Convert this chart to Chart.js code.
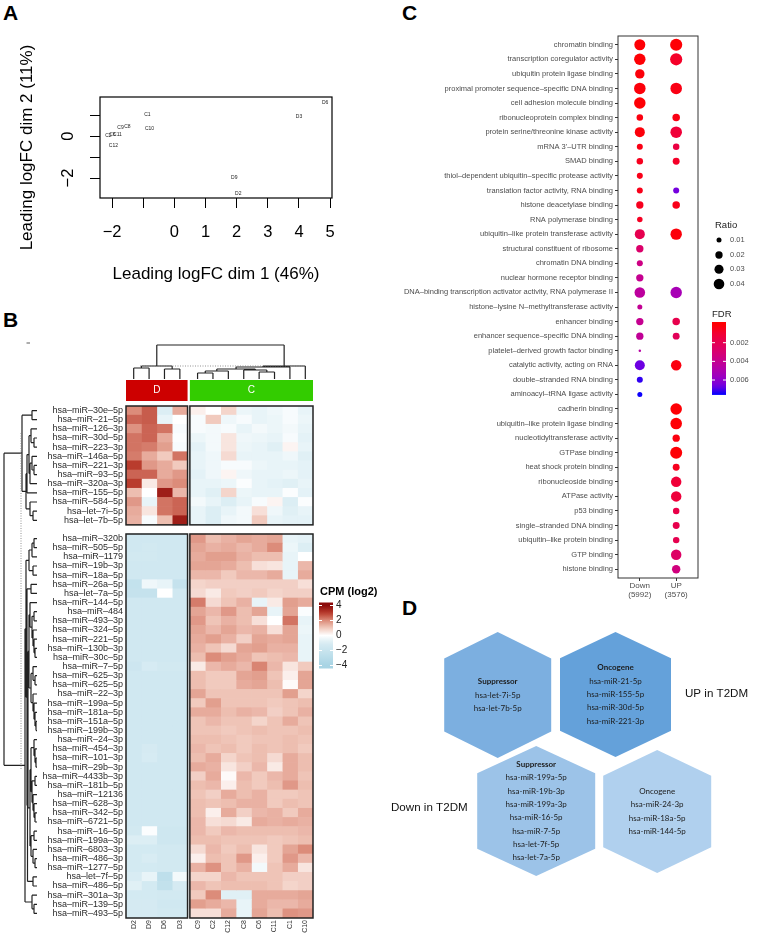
<!DOCTYPE html>
<html>
<head>
<meta charset="utf-8">
<script src="https://cdn.jsdelivr.net/npm/chart.js@4.4.1/dist/chart.umd.min.js"></script>
<style>
  body { margin: 0; background: #fff; width: 758px; height: 939px; position: relative; overflow: hidden;
         font-family: 'Liberation Sans', Arial, sans-serif; }
  canvas { position: absolute; }
  .lab { position: absolute; font-weight: bold; font-size: 21px; line-height: 21px; color: #000; }
</style>
</head>
<body>
<div class="lab" style="left:3px;top:2px">A</div>
<div class="lab" style="left:3px;top:309px">B</div>
<div class="lab" style="left:402px;top:2px">C</div>
<div class="lab" style="left:402px;top:597px">D</div>
<canvas id="cA" width="370" height="290" style="left:0;top:0"></canvas>
<canvas id="cB" width="380" height="639" style="left:0;top:300px"></canvas>
<canvas id="cC" width="388" height="605" style="left:370px;top:0"></canvas>
<canvas id="cD" width="388" height="349" style="left:370px;top:590px"></canvas>
<script>
// ---------- Panel A : MDS plot ----------
const mdsSamples = ['D6', 'D3', 'C1', 'C10', 'C9', 'C8', 'C2', 'C6', 'C11', 'C12', 'D9', 'D2'];
const mdsDim1 = [4.84, 4.0, -0.87, -0.8, -1.73, -1.51, -2.12, -1.99, -1.83, -1.96, 1.92, 2.05];
const mdsDim2 = [1.6, 0.93, 1.03, 0.36, 0.41, 0.46, 0.0, 0.08, 0.08, -0.44, -1.96, -2.72];
const mdsXTicks = [-2, -1, 0, 1, 2, 3, 4, 5];
const mdsYTicks = [-2, -1, 0, 1];
const mdsYShown = [0, -2];

// ---------- Panel B : heatmap ----------
const heatCols = ['D2', 'D9', 'D6', 'D3', 'C9', 'C2', 'C12', 'C8', 'C6', 'C11', 'C1', 'C10'];
const heatGroups = ['D', 'D', 'D', 'D', 'C', 'C', 'C', 'C', 'C', 'C', 'C', 'C'];
const heatRows = [
  'hsa–miR–30e–5p', 'hsa–miR–21–5p', 'hsa–miR–126–3p', 'hsa–miR–30d–5p', 'hsa–miR–223–3p',
  'hsa–miR–146a–5p', 'hsa–miR–221–3p', 'hsa–miR–93–5p', 'hsa–miR–320a–3p', 'hsa–miR–155–5p',
  'hsa–miR–584–5p', 'hsa–let–7i–5p', 'hsa–let–7b–5p',
  'hsa–miR–320b', 'hsa–miR–505–5p', 'hsa–miR–1179', 'hsa–miR–19b–3p', 'hsa–miR–18a–5p',
  'hsa–miR–26a–5p', 'hsa–let–7a–5p', 'hsa–miR–144–5p', 'hsa–miR–484', 'hsa–miR–493–3p',
  'hsa–miR–324–5p', 'hsa–miR–221–5p', 'hsa–miR–130b–3p', 'hsa–miR–30c–5p', 'hsa–miR–7–5p',
  'hsa–miR–625–3p', 'hsa–miR–625–5p', 'hsa–miR–22–3p', 'hsa–miR–199a–5p', 'hsa–miR–181a–5p',
  'hsa–miR–151a–5p', 'hsa–miR–199b–3p', 'hsa–miR–24–3p', 'hsa–miR–454–3p', 'hsa–miR–101–3p',
  'hsa–miR–29b–3p', 'hsa–miR–4433b–3p', 'hsa–miR–181b–5p', 'hsa–miR–12136', 'hsa–miR–628–3p',
  'hsa–miR–342–5p', 'hsa–miR–6721–5p', 'hsa–miR–16–5p', 'hsa–miR–199a–3p', 'hsa–miR–6803–3p',
  'hsa–miR–486–3p', 'hsa–miR–1277–5p', 'hsa–let–7f–5p', 'hsa–miR–486–5p', 'hsa–miR–301a–3p',
  'hsa–miR–139–5p', 'hsa–miR–493–5p'
];
const heatSplit = 13; // rows in the upper block
const heatValues = [
  [2.0, 2.6, -0.9, 1.5, 0.3, 0, 0.8, -0.5, -0.6, -0.4, -0.2, -0.6],
  [2.5, 2.6, -0.6, 0, -0.2, 1.0, -0.4, -0.2, -0.6, -0.5, -0.2, -0.5],
  [1.9, 2.5, 2.3, -0.2, -0.2, -0.3, -0.2, -0.6, -0.3, -0.5, -0.3, -0.6],
  [2.3, 2.5, 1.5, -0.1, -0.5, -0.3, 0.5, -0.4, -0.5, -0.6, -0.2, -0.7],
  [2.3, 2.2, 1.7, -0.2, -0.7, -0.3, 0.5, -0.5, -0.6, -0.8, 0.2, -0.6],
  [2.2, 1.5, 1.0, 2.3, -0.6, -0.4, 0.7, -0.6, -0.6, -0.6, -0.4, -0.8],
  [3.0, 1.8, 1.5, 1.0, -0.6, -0.4, -0.2, -0.2, -0.5, -0.6, -0.6, -0.7],
  [2.5, 2.5, 1.5, 1.8, -0.7, -0.4, 0.2, -0.4, -0.6, -0.6, -0.5, -0.7],
  [3.0, 0.4, 1.8, 2.0, -0.6, -0.6, -0.5, -0.1, -0.6, -0.7, -0.8, -0.6],
  [1.2, 0, 3.6, 1.3, -0.6, -0.8, 0.8, -0.5, -0.6, -0.6, -0.1, -0.7],
  [1.8, -0.6, 2.3, 2.5, -0.3, -0.6, -0.9, -0.6, -0.2, 0.2, -0.9, -0.1],
  [1.5, 0.5, 2.3, 2.5, -0.6, -0.9, -0.6, -0.3, 0.6, -0.4, -0.8, -0.6],
  [1.4, -0.2, 1.2, 3.6, -0.6, -0.9, -0.4, -0.3, 1.0, -0.6, -0.7, -0.7],
  [-1.5, -1.5, -1.5, -1.5, 1.8, 1.2, 1.4, 1.6, 1.5, 1.6, -0.6, -0.7],
  [-1.5, -1.4, -1.5, -1.5, 1.6, 1.4, 1.5, 1.3, 1.5, 2.0, -0.5, -0.9],
  [-1.4, -1.4, -1.5, -1.5, 1.5, 1.7, 1.7, 1.4, 1.2, 1.2, -0.6, 0],
  [-1.5, -1.5, -1.5, -1.5, 1.6, 1.6, 1.5, 1.2, 0.6, 0.5, -0.6, 1.3],
  [-1.5, -1.5, -1.5, -1.5, 1.3, 1.3, 1.0, 1.3, 1.3, 1.5, -0.6, 1.5],
  [-2.3, -0.4, -0.6, -2.2, 0.8, 0.9, 0.9, 0.9, 0.9, 0.9, 0.9, 0.6],
  [-2.2, -2.2, 0, -1.5, 0.7, 0.4, 1.0, 0.9, 1.0, 0.8, 0.9, 0.9],
  [-1.5, -1.5, -1.5, -1.5, 2.2, 0.7, 1.1, 1.4, -0.6, 0.4, 1.7, 1.5],
  [-1.5, -1.5, -1.5, -1.5, 1.6, 1.3, 1.8, 1.2, 1.6, -0.6, 1.6, -0.1],
  [-1.5, -1.5, -1.5, -1.5, 1.8, 1.1, 1.4, 1.2, 0.6, 0, 2.3, -0.6],
  [-1.5, -1.5, -1.5, -1.5, 1.6, 1.3, 1.6, 1.3, 1.4, 0.6, 1.6, -0.5],
  [-1.5, -1.5, -1.5, -1.5, 1.5, 1.7, 1.4, 0.9, 1.6, 1.5, 1.6, -0.6],
  [-1.5, -1.5, -1.5, -1.5, 1.4, 1.1, 0.7, 1.6, 1.7, 1.4, 1.4, -0.6],
  [-1.5, -1.5, -1.5, -1.5, 1.2, 2.0, 1.7, 1.5, 1.1, 1.2, 1.3, -0.6],
  [-1.7, -1.1, -1.4, -1.4, 0.4, 1.3, 1.5, 1.3, 2.1, 1.3, 0.5, 1.0],
  [-1.5, -1.5, -1.5, -1.5, 1.2, 1.0, 1.0, 1.6, 1.7, 1.1, 0.3, 1.6],
  [-1.5, -1.5, -1.5, -1.5, 1.2, 1.0, 1.0, 1.5, 1.6, 1.2, 0.1, 1.6],
  [-1.5, -1.5, -1.5, -1.5, 1.6, 1.1, 1.1, 1.1, 1.1, 1.1, 1.7, 0.8],
  [-1.5, -1.5, -1.5, -1.5, 1.0, 1.7, 1.1, 1.1, 1.1, 1.0, 1.1, 1.2],
  [-1.5, -1.5, -1.5, -1.5, 1.5, 1.5, 1.2, 1.4, 1.3, 0.9, 1.1, 1.4],
  [-1.5, -1.5, -1.5, -1.5, 1.1, 1.3, 1.1, 1.1, 0.8, 1.1, 1.5, 1.1],
  [-1.5, -1.5, -1.5, -1.5, 1.1, 1.1, 1.0, 1.1, 1.2, 1.1, 1.1, 1.2],
  [-1.5, -1.5, -1.5, -1.5, 1.2, 1.2, 1.1, 1.0, 1.1, 1.1, 1.2, 1.1],
  [-1.5, -1.2, -1.5, -1.5, 1.3, 1.1, 1.2, 1.0, 1.2, 1.1, 1.2, 1.0],
  [-1.5, -1.1, -1.5, -1.5, 1.2, 1.5, 0.8, 1.1, 1.2, 0.7, 1.5, 1.2],
  [-1.5, -1.5, -1.5, -1.5, 1.5, 1.4, 0.5, 0.9, 1.3, 0.4, 1.5, 1.2],
  [-1.5, -1.5, -1.5, -1.5, 0.9, 1.5, 0.1, 1.3, 1.0, 1.3, 1.5, 1.1],
  [-1.5, -1.5, -1.5, -1.5, 1.2, 1.3, 0.3, 1.2, 1.0, 1.2, 1.8, 1.2],
  [-1.5, -1.5, -1.5, -1.5, 1.1, 0.9, 1.5, 1.2, 1.4, 1.0, 1.0, 1.1],
  [-1.5, -1.5, -1.5, -1.5, 1.2, 1.1, 1.2, 1.4, 1.4, 1.0, 1.2, 1.1],
  [-1.5, -1.5, -1.5, -1.5, 1.2, 0.3, 1.5, 0.9, 1.3, 1.4, 1.0, 1.5],
  [-1.5, -1.5, -1.5, -1.5, 1.3, 0.6, 0.7, 0.4, 1.5, 1.4, 1.5, 1.4],
  [-1.4, -0.1, -1.6, -1.6, 1.3, 1.0, 1.3, 1.2, 1.2, 1.2, 1.2, 1.3],
  [-0.9, -0.9, -1.6, -1.6, 1.2, 1.2, 1.1, 1.1, 1.1, 1.0, 1.1, 1.2],
  [-1.3, -1.3, -1.4, -1.4, 0.7, 1.3, 1.0, 1.2, 0.5, 1.0, 1.6, 2.0],
  [-1.3, -1.0, -1.4, -1.4, 0.3, 1.2, 1.1, 1.8, 0.3, 1.0, 1.8, 1.3],
  [-1.3, -1.3, -1.4, -1.4, 1.4, 1.9, 1.1, 1.4, -0.3, 1.1, 1.5, 0.5],
  [-1.0, -0.6, -2.6, -0.3, 0.8, 0.8, 1.3, 1.1, 1.1, 1.1, 0.9, 0.9],
  [-0.8, -1.3, -2.4, -1.2, 1.3, 1.1, 1.2, 1.2, 1.2, 1.1, 0.8, 0.9],
  [-1.3, -1.3, -1.4, -1.4, 1.0, 2.0, -0.8, -0.8, 1.5, 1.5, 1.5, 1.6],
  [-1.2, -1.2, -1.5, -1.5, 1.7, 1.5, 1.3, -0.6, 1.5, 1.3, 1.3, 1.5],
  [-1.2, -1.2, -1.4, -1.4, 0.6, 0.6, 1.5, -0.6, 1.6, 1.2, 1.9, 1.8]
];
// dendrograms: [left, right, height]; leaves are 1-based positions
const colTree = [[[1, 2, 11], [3, 4, 10], 13],
  [[[[[5, 6, 6], 7, 8], [8, [9, 10, 7], 9], 10], 11, 12], 12, 13], 34];
const rowTreeTop = [[1, 2, 5],
  [[[[3, [4, 5, 3], 6], [[6, [7, 8, 3], 5], 9, 7], 8], 10, 10], [11, [12, 13, 4], 7], 11], 15];
const rowTreeBottom = [[
  [[[14, 15, 3], 16, 5], [17, 18, 4], 8],
  [[19, 20, 6],
   [[[[21, [[22, 23, 3], [24, [25, [26, 27, 2], 3], 4], 5], 7],
      [[28, [29, 30, 2], 4], [31, [32, [33, [34, 35, 1], 2], 3], 4], 6], 8],
     [[[36, [37, [38, 39, 1], 2], 3], [[40, 41, 2], [42, [43, [44, 45, 2], 3], 4], 5], 6],
      [[46, 47, 3], [48, [49, 50, 2], 4], 6], 7], 9],
    [51, 52, 4], 9.5], 10], 11],
  [53, [54, 55, 3], 5], 12];
const rowTree = [rowTreeTop, rowTreeBottom, 33];
const cpmTicks = [4, 2, 0, -2, -4];

// ---------- Panel C : GO dot plot ----------
const goTerms = [
  'chromatin binding', 'transcription coregulator activity', 'ubiquitin protein ligase binding',
  'proximal promoter sequence–specific DNA binding', 'cell adhesion molecule binding',
  'ribonucleoprotein complex binding', 'protein serine/threonine kinase activity', 'mRNA 3\'–UTR binding',
  'SMAD binding', 'thiol–dependent ubiquitin–specific protease activity',
  'translation factor activity, RNA binding', 'histone deacetylase binding', 'RNA polymerase binding',
  'ubiquitin–like protein transferase activity', 'structural constituent of ribosome',
  'chromatin DNA binding', 'nuclear hormone receptor binding',
  'DNA–binding transcription activator activity, RNA polymerase II',
  'histone–lysine N–methyltransferase activity', 'enhancer binding',
  'enhancer sequence–specific DNA binding', 'platelet–derived growth factor binding',
  'catalytic activity, acting on RNA', 'double–stranded RNA binding', 'aminoacyl–tRNA ligase activity',
  'cadherin binding', 'ubiquitin–like protein ligase binding', 'nucleotidyltransferase activity',
  'GTPase binding', 'heat shock protein binding', 'ribonucleoside binding', 'ATPase activity',
  'p53 binding', 'single–stranded DNA binding', 'ubiquitin–like protein binding', 'GTP binding',
  'histone binding'
];
const downRatio = [0.043, 0.046, 0.032, 0.047, 0.047, 0.016, 0.036, 0.014, 0.016, 0.014, 0.014, 0.020,
  0.012, 0.036, 0.020, 0.014, 0.020, 0.040, 0.010, 0.020, 0.020, 0.003, 0.036, 0.014, 0.010,
  null, null, null, null, null, null, null, null, null, null, null, null];
const downFDR = [0.0001, 0.0001, 0.0002, 0.0002, 0.0001, 0.0003, 0.0002, 0.0004, 0.0006, 0.0005, 0.0005, 0.0006,
  0.0007, 0.0019, 0.0028, 0.0036, 0.0040, 0.0044, 0.0041, 0.0040, 0.0042, 0.0046, 0.0067, 0.0072, 0.0075,
  null, null, null, null, null, null, null, null, null, null, null, null];
const upRatio = [0.052, 0.052, null, 0.047, null, 0.021, 0.047, 0.016, 0.018, null, 0.014, 0.021,
  null, 0.046, null, null, null, 0.046, null, 0.021, 0.018, null, 0.039, null, null,
  0.047, 0.047, 0.020, 0.051, 0.018, 0.039, 0.039, 0.016, 0.018, 0.016, 0.039, 0.026];
const upFDR = [0.0001, 0.0008, null, 0.0004, null, 0.0004, 0.0012, 0.0015, 0.0008, null, 0.0066, 0.0005,
  null, 0.0002, null, null, null, 0.0052, null, 0.0018, 0.0022, null, 0.0003, null, null,
  0.0001, 0.0001, 0.0003, 0.0001, 0.0006, 0.0012, 0.0013, 0.0017, 0.0018, 0.0019, 0.0026, 0.0034];
const groupLabels = [['Down', '(5992)'], ['UP', '(3576)']];
const ratioBreaks = [0.01, 0.02, 0.03, 0.04];
const fdrBreaks = [0.002, 0.004, 0.006];
const fdrMax = 0.0076;

// ---------- Panel D : hexagon summary ----------
const hexTitles = ['Suppressor', 'Oncogene', 'Suppressor', 'Oncogene'];
const hexBold = [true, true, true, false];
const hexMembers = [
  ['hsa-let-7i-5p', 'hsa-let-7b-5p'],
  ['hsa-miR-21-5p', 'hsa-miR-155-5p', 'hsa-miR-30d-5p', 'hsa-miR-221-3p'],
  ['hsa-miR-199a-5p', 'hsa-miR-19b-3p', 'hsa-miR-199a-3p', 'hsa-miR-16-5p', 'hsa-miR-7-5p',
   'hsa-let-7f-5p', 'hsa-let-7a-5p'],
  ['hsa-miR-24-3p', 'hsa-miR-18a-5p', 'hsa-miR-144-5p']
];
const hexX = [127.7, 245.5, 166.2, 287.2];
const hexY = [105, 104.5, 221, 221.5];
const hexW = [107, 111, 118, 108];
const hexH = [126, 125, 130, 123];
const hexFill = ['#7cafe0', '#64a1da', '#9cc3e8', '#b0d0ee'];

// ---------- helpers ----------
Chart.defaults.font.family = "'Liberation Sans', Arial, sans-serif";
Chart.defaults.plugins.legend.display = false;
Chart.defaults.plugins.tooltip.enabled = false;

function mixStops(stops, v) {
  if (v <= stops[0][0]) return stops[0][1];
  for (let i = 1; i < stops.length; i++) {
    if (v <= stops[i][0]) {
      const [v0, c0] = stops[i - 1], [v1, c1] = stops[i];
      const t = (v - v0) / (v1 - v0);
      return c0.map((c, k) => Math.round(c + (c1[k] - c) * t));
    }
  }
  return stops[stops.length - 1][1];
}
const rgb = c => `rgb(${c[0]},${c[1]},${c[2]})`;
const heatStops = [[-4, [168, 212, 228]], [-2, [200, 228, 238]], [-1, [216, 236, 243]], [0, [255, 255, 255]],
  [1, [241, 202, 190]], [2, [220, 140, 122]], [3, [185, 60, 45]], [4, [140, 10, 10]]];
const fdrStops = [[0, [255, 0, 0]], [0.125, [243, 0, 48]], [0.25, [230, 0, 79]], [0.375, [218, 0, 108]],
  [0.5, [201, 0, 137]], [0.625, [180, 0, 168]], [0.75, [154, 0, 195]], [0.875, [115, 0, 224]], [1, [0, 0, 255]]];
const heatColor = v => rgb(mixStops(heatStops, v));
const fdrColor = f => rgb(mixStops(fdrStops, f / fdrMax));
const dotRadius = r => -0.3 + 28 * Math.sqrt(r);
const minus = v => (v < 0 ? '−' + Math.abs(v) : String(v));

// collect dendrogram segments as [pos0, h0, pos1, h1]
function treeSegments(node, leafPos, out) {
  if (typeof node === 'number') return { c: leafPos(node), h: 0 };
  const a = treeSegments(node[0], leafPos, out);
  const b = treeSegments(node[1], leafPos, out);
  const h = node[2];
  out.push([a.c, a.h, a.c, h], [a.c, h, b.c, h], [b.c, h, b.c, b.h]);
  return { c: (a.c + b.c) / 2, h: h };
}

// ---------- Panel A ----------
const mdsPlugin = {
  id: 'mds',
  afterDraw(chart) {
    const { ctx, chartArea: a, scales } = chart;
    ctx.save();
    ctx.strokeStyle = '#000';
    ctx.lineWidth = 1.2;
    ctx.strokeRect(a.left, a.top, a.right - a.left, a.bottom - a.top);
    ctx.fillStyle = '#222';
    ctx.font = "5px 'Liberation Sans', Arial";
    ctx.textAlign = 'center';
    ctx.textBaseline = 'middle';
    mdsSamples.forEach((s, i) => {
      ctx.fillText(s, scales.x.getPixelForValue(mdsDim1[i]), scales.y.getPixelForValue(mdsDim2[i]));
    });
    ctx.fillStyle = '#000';
    ctx.font = "16.5px 'Liberation Sans', Arial";
    mdsYShown.forEach(v => {
      ctx.save();
      ctx.translate(68, scales.y.getPixelForValue(v));
      ctx.rotate(-Math.PI / 2);
      ctx.fillText(minus(v), 0, 0);
      ctx.restore();
    });
    ctx.restore();
  }
};

new Chart(document.getElementById('cA'), {
  type: 'scatter',
  data: { datasets: [{ data: mdsDim1.map((x, i) => ({ x: x, y: mdsDim2[i] })), pointRadius: 0 }] },
  options: {
    responsive: false, animation: false, devicePixelRatio: 1,
    layout: { padding: { top: 97, right: 38, left: 0, bottom: 0 } },
    scales: {
      x: {
        type: 'linear', min: -2.39, max: 5.06,
        afterBuildTicks: s => { s.ticks = mdsXTicks.map(v => ({ value: v })); },
        afterFit: s => { s.height = 92; },
        grid: { drawOnChartArea: false, tickLength: 10, color: '#000', lineWidth: 1 },
        border: { display: false },
        ticks: { color: '#000', font: { size: 16.5 }, padding: 15, maxRotation: 0, autoSkip: false,
                 callback: v => (v === -1 ? '' : minus(v)) },
        title: { display: true, text: 'Leading logFC dim 1 (46%)', color: '#000', font: { size: 17 },
                 padding: { top: 0, bottom: 5 } }
      },
      y: {
        type: 'linear', min: -2.95, max: 1.86,
        afterBuildTicks: s => { s.ticks = mdsYTicks.map(v => ({ value: v })); },
        afterFit: s => { s.width = 100; },
        grid: { drawOnChartArea: false, tickLength: 10, color: '#000', lineWidth: 1 },
        border: { display: false },
        ticks: { color: 'rgba(0,0,0,0)', font: { size: 16.5 }, autoSkip: false },
        title: { display: true, text: 'Leading logFC dim 2 (11%)', color: '#000', font: { size: 17 },
                 padding: { top: 17, bottom: 0 } }
      }
    }
  },
  plugins: [mdsPlugin]
});

// ---------- Panel B ----------
const rowCats = heatRows.slice(0, heatSplit).concat([''], heatRows.slice(heatSplit));
const rowOfCat = rowCats.map((_, k) => (k < heatSplit ? k : (k === heatSplit ? null : k - 1)));
const colStart = c => c + (heatGroups[c] === 'C' ? 0.15 : 0);
const colCenters = heatCols.map((_, c) => colStart(c) + 0.5);

const heatPlugin = {
  id: 'heat',
  afterDraw(chart) {
    const { ctx, chartArea: a, scales } = chart;
    const xs = scales.x, ys = scales.y;
    const half = (ys.getPixelForValue(1) - ys.getPixelForValue(0)) / 2;
    const catOfLeaf = i => (i <= heatSplit ? i - 1 : i);
    ctx.save();
    // block frames
    ctx.strokeStyle = '#222';
    ctx.lineWidth = 1.5;
    const blocks = [[0, 4, 0, heatSplit - 1], [4, 12, 0, heatSplit - 1],
                    [0, 4, heatSplit + 1, rowCats.length - 1], [4, 12, heatSplit + 1, rowCats.length - 1]];
    blocks.forEach(([c0, c1, r0, r1]) => {
      const x0 = xs.getPixelForValue(colStart(c0)), x1 = xs.getPixelForValue(colStart(c1 - 1) + 1);
      const y0 = ys.getPixelForValue(r0) - half, y1 = ys.getPixelForValue(r1) + half;
      ctx.strokeRect(x0, y0, x1 - x0, y1 - y0);
    });
    // group annotation bar
    const groupInfo = [['D', '#cd0000', 0, 4], ['C', '#33cc00', 4, 12]];
    ctx.font = "10px 'Liberation Sans', Arial";
    ctx.textAlign = 'center';
    ctx.textBaseline = 'middle';
    groupInfo.forEach(([g, col, c0, c1]) => {
      const x0 = xs.getPixelForValue(colStart(c0)), x1 = xs.getPixelForValue(colStart(c1 - 1) + 1);
      ctx.fillStyle = col;
      ctx.fillRect(x0, a.top - 26, x1 - x0, 21);
      ctx.fillStyle = '#fff';
      ctx.fillText(g, (x0 + x1) / 2, a.top - 15.5);
    });
    // column dendrogram
    ctx.strokeStyle = '#222';
    ctx.lineWidth = 1.2;
    const baseY = a.top - 27;
    const cseg = [];
    treeSegments(colTree, j => xs.getPixelForValue(colCenters[j - 1]), cseg);
    ctx.beginPath();
    cseg.forEach(([p0, h0, p1, h1]) => { ctx.moveTo(p0, baseY - h0); ctx.lineTo(p1, baseY - h1); });
    ctx.stroke();
    // row dendrogram
    const baseX = 37;
    const rseg = [];
    treeSegments(rowTree, i => ys.getPixelForValue(catOfLeaf(i)), rseg);
    ctx.beginPath();
    rseg.forEach(([p0, h0, p1, h1]) => { ctx.moveTo(baseX - h0, p0); ctx.lineTo(baseX - h1, p1); });
    ctx.stroke();
    // cut lines
    ctx.strokeStyle = '#777';
    ctx.lineWidth = 0.8;
    ctx.setLineDash([1, 1.5]);
    ctx.beginPath();
    ctx.moveTo(140, 66); ctx.lineTo(303, 66);
    ctx.moveTo(21, 133); ctx.lineTo(21, 470);
    ctx.stroke();
    ctx.setLineDash([]);
    ctx.strokeStyle = '#333';
    ctx.beginPath(); ctx.moveTo(26.5, 43); ctx.lineTo(30, 43); ctx.stroke();
    // colour key
    const keyX = 319, keyW = 14, keyMid = 335.5, keyStep = 7.5;
    const kp = v => keyMid - v * keyStep;
    const grad = ctx.createLinearGradient(0, kp(4.4), 0, kp(-4.4));
    for (let k = 0; k <= 22; k++) {
      const v = 4.4 - k * 0.4;
      grad.addColorStop(k / 22, heatColor(v));
    }
    ctx.fillStyle = grad;
    ctx.fillRect(keyX, kp(4.4), keyW, kp(-4.4) - kp(4.4));
    ctx.strokeStyle = '#fff';
    ctx.lineWidth = 1;
    ctx.beginPath();
    cpmTicks.forEach(v => {
      ctx.moveTo(keyX, kp(v)); ctx.lineTo(keyX + 3, kp(v));
      ctx.moveTo(keyX + keyW - 3, kp(v)); ctx.lineTo(keyX + keyW, kp(v));
    });
    ctx.stroke();
    ctx.fillStyle = '#222';
    ctx.textAlign = 'left';
    ctx.font = "10px 'Liberation Sans', Arial";
    cpmTicks.forEach(v => ctx.fillText(minus(v), keyX + keyW + 3, kp(v)));
    ctx.font = "bold 11px 'Liberation Sans', Arial";
    ctx.fillStyle = '#000';
    ctx.fillText('CPM (log2)', 320, 292);
    ctx.restore();
  }
};

new Chart(document.getElementById('cB'), {
  type: 'bar',
  data: {
    labels: rowCats,
    datasets: heatCols.map((name, c) => ({
      label: name,
      data: rowOfCat.map(r => (r === null ? null : [colStart(c), colStart(c) + 1])),
      backgroundColor: rowOfCat.map(r => (r === null ? 'rgba(0,0,0,0)' : heatColor(heatValues[r][c]))),
      borderWidth: 0,
      barPercentage: 1,
      categoryPercentage: 1,
      grouped: false
    }))
  },
  options: {
    indexAxis: 'y',
    responsive: false, animation: false, devicePixelRatio: 1,
    layout: { padding: { top: 106, right: 67, left: 0, bottom: 0 } },
    scales: {
      x: {
        type: 'linear', min: 0, max: 12.15,
        afterBuildTicks: s => { s.ticks = colCenters.map(v => ({ value: v })); },
        afterFit: s => { s.height = 21; },
        grid: { display: false, drawTicks: false },
        border: { display: false },
        ticks: { autoSkip: false, minRotation: 90, maxRotation: 90, padding: 2, color: '#333',
                 font: { size: 7 }, callback: (v, i) => heatCols[i] }
      },
      y: {
        type: 'category',
        afterFit: s => { s.width = 126; },
        grid: { display: false, drawTicks: false },
        border: { display: false },
        ticks: { autoSkip: false, padding: 3, color: '#2b2b2b', font: { size: 9, lineHeight: 1 } }
      }
    }
  },
  plugins: [heatPlugin]
});

// ---------- Panel C ----------
const goPlugin = {
  id: 'go',
  afterDraw(chart) {
    const { ctx, chartArea: a } = chart;
    ctx.save();
    ctx.strokeStyle = '#333';
    ctx.lineWidth = 1;
    ctx.strokeRect(a.left, a.top, a.right - a.left, a.bottom - a.top);
    // Ratio legend
    ctx.fillStyle = '#222';
    ctx.font = "9.5px 'Liberation Sans', Arial";
    ctx.textBaseline = 'middle';
    ctx.textAlign = 'left';
    ctx.fillText('Ratio', 345, 225);
    const keyY = [240, 255, 269.3, 284];
    ratioBreaks.forEach((r, i) => {
      ctx.fillStyle = '#000';
      ctx.beginPath();
      ctx.arc(349, keyY[i], dotRadius(r), 0, Math.PI * 2);
      ctx.fill();
      ctx.fillStyle = '#4d4d4d';
      ctx.font = "7.5px 'Liberation Sans', Arial";
      ctx.fillText(r.toFixed(2), 360, keyY[i]);
    });
    // FDR legend
    ctx.fillStyle = '#222';
    ctx.font = "9.5px 'Liberation Sans', Arial";
    ctx.fillText('FDR', 342, 314);
    const fy = f => 342.7 + (f - 0.002) * 9325;
    const top = fy(-0.00022), bot = fy(fdrMax);
    const grad = ctx.createLinearGradient(0, top, 0, bot);
    for (let k = 0; k <= 20; k++) {
      const f = -0.00022 + (fdrMax + 0.00022) * k / 20;
      grad.addColorStop(k / 20, fdrColor(Math.max(f, 0)));
    }
    ctx.fillStyle = grad;
    ctx.fillRect(342, top, 14, bot - top);
    ctx.strokeStyle = '#fff';
    ctx.beginPath();
    fdrBreaks.forEach(f => {
      ctx.moveTo(342, fy(f)); ctx.lineTo(345, fy(f));
      ctx.moveTo(353, fy(f)); ctx.lineTo(356, fy(f));
    });
    ctx.stroke();
    ctx.fillStyle = '#4d4d4d';
    ctx.font = "7.5px 'Liberation Sans', Arial";
    fdrBreaks.forEach(f => ctx.fillText(f.toFixed(3), 360, fy(f)));
    ctx.restore();
  }
};

const goPoints = (ratio, fdr, x) => goTerms.map((t, i) => ({ x: x, y: i + 1, ratio: ratio[i], fdr: fdr[i] }))
  .filter(p => p.ratio !== null);

new Chart(document.getElementById('cC'), {
  type: 'scatter',
  data: {
    datasets: [
      { label: 'Down', data: goPoints(downRatio, downFDR, 1) },
      { label: 'UP', data: goPoints(upRatio, upFDR, 2) }
    ]
  },
  options: {
    responsive: false, animation: false, devicePixelRatio: 1,
    layout: { padding: { top: 36, right: 60, left: 0, bottom: 0 } },
    elements: {
      point: {
        radius: c => dotRadius(c.raw.ratio),
        backgroundColor: c => fdrColor(c.raw.fdr),
        borderWidth: 0
      }
    },
    scales: {
      x: {
        type: 'linear', min: 0.4, max: 2.6,
        afterBuildTicks: s => { s.ticks = [1, 2].map(v => ({ value: v })); },
        afterFit: s => { s.height = 27; },
        grid: { drawOnChartArea: false, tickLength: 3, color: '#333' },
        border: { display: false },
        ticks: { color: '#4d4d4d', font: { size: 8, lineHeight: 1.05 }, padding: 1, maxRotation: 0,
                 callback: v => groupLabels[v - 1] }
      },
      y: {
        type: 'linear', min: 0.4, max: 37.6, reverse: true,
        afterBuildTicks: s => { s.ticks = goTerms.map((_, i) => ({ value: i + 1 })); },
        afterFit: s => { s.width = 248; },
        grid: { drawOnChartArea: false, tickLength: 3, color: '#333' },
        border: { display: false },
        ticks: { autoSkip: false, color: '#4d4d4d', padding: 2, font: { size: 7.5, lineHeight: 1 },
                 callback: v => goTerms[v - 1] }
      }
    }
  },
  plugins: [goPlugin]
});

// ---------- Panel D ----------
const hexPlugin = {
  id: 'hex',
  afterDatasetsDraw(chart) {
    const { ctx, scales } = chart;
    ctx.save();
    hexX.forEach((hx, i) => {
      const cx = scales.x.getPixelForValue(hx), cy = scales.y.getPixelForValue(hexY[i]);
      const w = hexW[i] / 2, h = hexH[i] / 2, o = hexH[i] * 0.21;
      ctx.fillStyle = hexFill[i];
      ctx.beginPath();
      ctx.moveTo(cx, cy - h);
      ctx.lineTo(cx + w, cy - h + o);
      ctx.lineTo(cx + w, cy + h - o);
      ctx.lineTo(cx, cy + h);
      ctx.lineTo(cx - w, cy + h - o);
      ctx.lineTo(cx - w, cy - h + o);
      ctx.closePath();
      ctx.fill();
      const lines = [hexTitles[i]].concat(hexMembers[i]);
      const step = 13.3;
      const y0 = cy - (lines.length - 1) * step / 2;
      ctx.fillStyle = '#1c1c1c';
      ctx.textAlign = 'center';
      ctx.textBaseline = 'middle';
      lines.forEach((t, k) => {
        ctx.font = (k === 0 && hexBold[i] ? 'bold ' : '') + "8px Lato, 'Open Sans', sans-serif";
        ctx.fillText(t, cx, y0 + k * step);
      });
    });
    ctx.fillStyle = '#111';
    ctx.textAlign = 'left';
    ctx.font = "11.6px 'Liberation Sans', Arial";
    ctx.fillText('UP in T2DM', 315, 104);
    ctx.fillText('Down in T2DM', 21, 218);
    ctx.restore();
  }
};

new Chart(document.getElementById('cD'), {
  type: 'scatter',
  data: { datasets: [{ data: hexX.map((x, i) => ({ x: x, y: hexY[i] })), pointRadius: 0 }] },
  options: {
    responsive: false, animation: false, devicePixelRatio: 1,
    layout: { padding: 0 },
    scales: {
      x: { display: false, min: 0, max: 388 },
      y: { display: false, min: 0, max: 349, reverse: true }
    }
  },
  plugins: [hexPlugin]
});
</script>
</body>
</html>
